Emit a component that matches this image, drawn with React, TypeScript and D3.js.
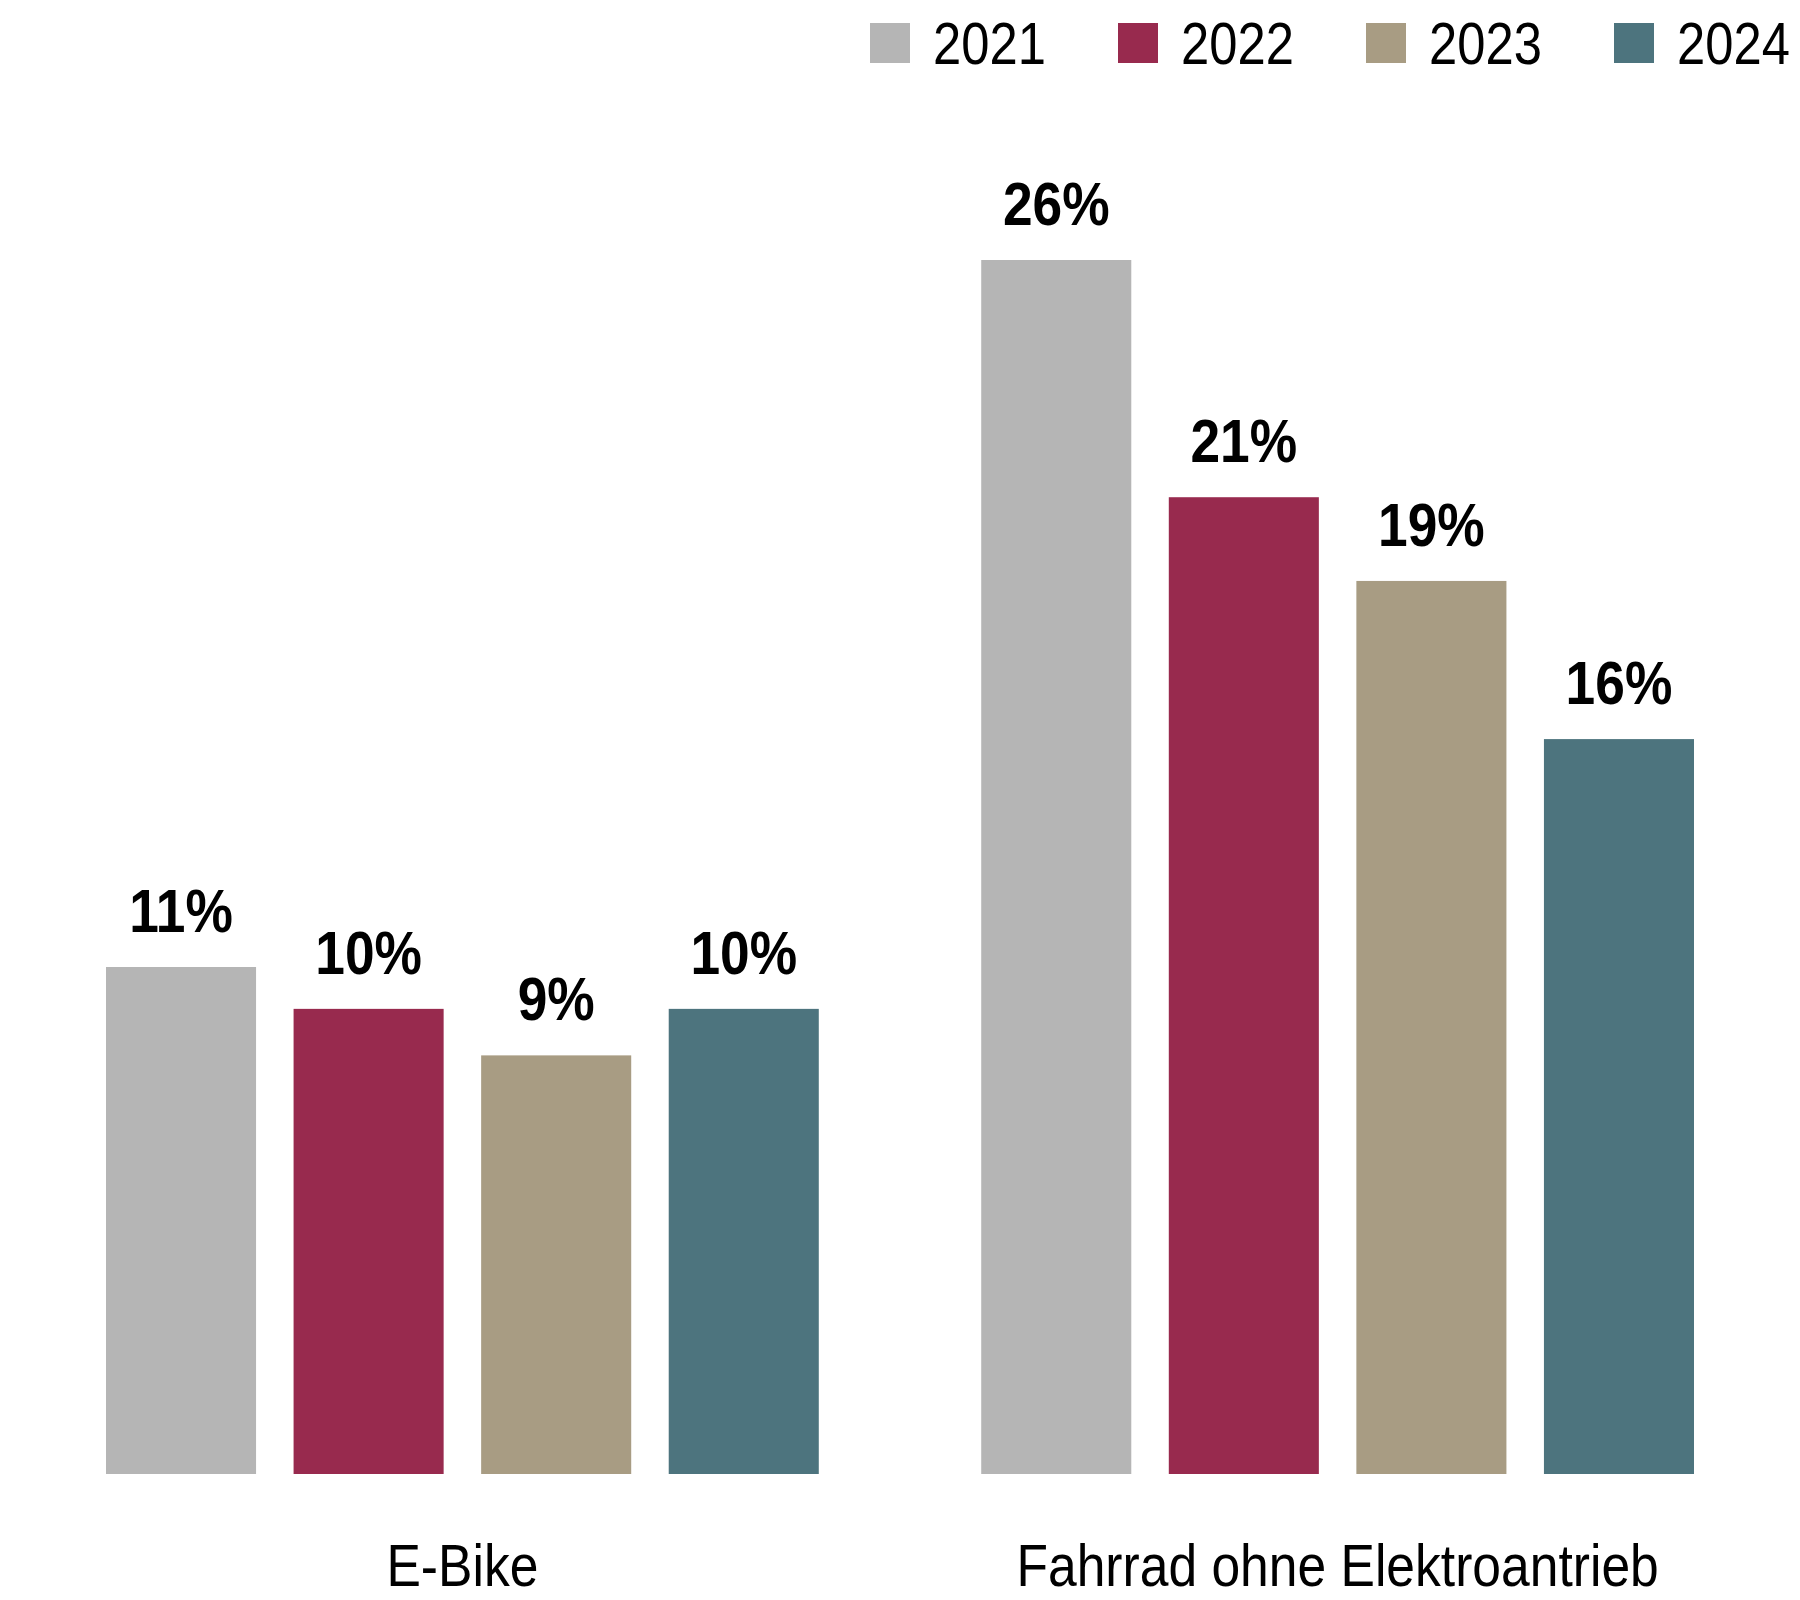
import React, { useEffect, useRef } from 'react';
import * as d3 from 'd3';

const categories = ['E-Bike', 'Fahrrad ohne Elektroantrieb'];
const years = ['2021', '2022', '2023', '2024'];
const colors = ['#b5b5b5', '#982a4e', '#a89c83', '#4d747e'];

// shares in percent, per year, in the order of categories
const values2021 = [10.9, 26.1];
const values2022 = [10.0, 21.0];
const values2023 = [9.0, 19.2];
const values2024 = [10.0, 15.8];

const WIDTH = 1800;
const HEIGHT = 1600;
const FONT = '"Liberation Sans", Arial, sans-serif';
const SQUEEZE = 0.86; // the original font is a condensed grotesk

const App: React.FC = () => {
    const chartRef = useRef<SVGSVGElement>(null);

    useEffect(() => {
        if (!chartRef.current) return;

        const svg = d3.select(chartRef.current);
        svg.selectAll('*').remove();

        const series = [values2021, values2022, values2023, values2024];
        const rows = categories.map((cat, ci) => ({
            cat,
            bars: years.map((year, yi) => ({ year, value: series[yi][ci] })),
        }));

        const baseline = 1474;

        const x0 = d3.scaleBand<string>()
            .domain(categories)
            .range([106, 1694])
            .paddingInner(0.1856)
            .paddingOuter(0);

        const x1 = d3.scaleBand<string>()
            .domain(years)
            .range([0, x0.bandwidth()])
            .paddingInner(0.2)
            .paddingOuter(0);

        const y = d3.scaleLinear()
            .domain([0, 26.1])
            .range([baseline, 260]);

        const color = d3.scaleOrdinal<string, string>().domain(years).range(colors);
        const fmt = d3.format('.0f');

        const groups = svg.selectAll('g.group')
            .data(rows)
            .join('g')
            .attr('class', 'group')
            .attr('transform', d => `translate(${x0(d.cat)},0)`);

        groups.selectAll('rect')
            .data(d => d.bars)
            .join('rect')
            .attr('x', d => x1(d.year)!)
            .attr('y', d => y(d.value))
            .attr('width', x1.bandwidth())
            .attr('height', d => baseline - y(d.value))
            .attr('fill', d => color(d.year));

        // value labels above the bars
        groups.selectAll('text.value')
            .data(d => d.bars)
            .join('text')
            .attr('class', 'value')
            .attr('transform', d =>
                `translate(${x1(d.year)! + x1.bandwidth() / 2},${y(d.value) - 35}) scale(${SQUEEZE},1)`)
            .attr('text-anchor', 'middle')
            .attr('font-family', FONT)
            .attr('font-weight', 'bold')
            .attr('font-size', 62)
            .attr('fill', '#000')
            .text(d => `${fmt(d.value)}%`);

        // category labels
        svg.selectAll('text.cat')
            .data(categories)
            .join('text')
            .attr('class', 'cat')
            .attr('transform', d => `translate(${x0(d)! + x0.bandwidth() / 2},1586) scale(${SQUEEZE},1)`)
            .attr('text-anchor', 'middle')
            .attr('font-family', FONT)
            .attr('font-size', 60)
            .attr('fill', '#000')
            .text(d => d);

        // legend, top right
        const legend = svg.append('g').attr('transform', 'translate(870,23)');
        const item = legend.selectAll('g')
            .data(years)
            .join('g')
            .attr('transform', (d, i) => `translate(${i * 248},0)`);

        item.append('rect')
            .attr('width', 40)
            .attr('height', 40)
            .attr('fill', d => color(d));

        item.append('text')
            .attr('transform', `translate(63,41) scale(${SQUEEZE},1)`)
            .attr('font-family', FONT)
            .attr('font-size', 59)
            .attr('fill', '#000')
            .text(d => d);
    }, []);

    return (
        <svg
            ref={chartRef}
            width={WIDTH}
            height={HEIGHT}
            style={{ position: 'absolute', left: 0, top: 0, background: '#fff' }}
        ></svg>
    );
};

export default App;
